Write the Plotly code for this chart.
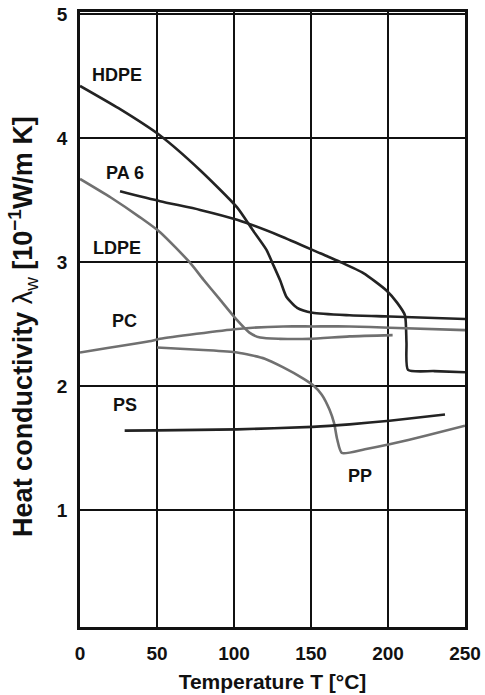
import plotly.graph_objects as go

DARK = "#232323"
GRAY = "#707070"

hdpe_t = [0, 25, 52, 78, 102, 112, 121, 125, 130, 134, 141, 151, 175, 201, 250]
hdpe_l = [4.42, 4.24, 4.02, 3.74, 3.44, 3.26, 3.10, 2.99, 2.85, 2.72, 2.63, 2.59, 2.57, 2.56, 2.54]

pa6_t = [26, 52, 78, 102, 130, 156, 169, 184, 199, 206, 211, 212, 213, 230, 250]
pa6_l = [3.57, 3.49, 3.42, 3.34, 3.21, 3.07, 3.00, 2.91, 2.77, 2.67, 2.57, 2.35, 2.13, 2.12, 2.11]

ldpe_t = [0, 20, 39, 52, 71, 80, 90, 102, 110, 117, 130, 149, 175, 203]
ldpe_l = [3.67, 3.52, 3.36, 3.24, 3.00, 2.86, 2.71, 2.53, 2.43, 2.39, 2.38, 2.38, 2.40, 2.41]

pc_t = [0, 45, 52, 102, 132, 151, 175, 201, 250]
pc_l = [2.27, 2.36, 2.38, 2.46, 2.48, 2.48, 2.48, 2.47, 2.45]

pp_t = [50, 80, 102, 120, 132, 145, 151, 157, 162, 165, 167, 170, 185, 201, 225, 250]
pp_l = [2.31, 2.29, 2.27, 2.22, 2.15, 2.06, 2.01, 1.93, 1.81, 1.70, 1.57, 1.46, 1.49, 1.53, 1.60, 1.68]

ps_t = [29, 50, 102, 151, 175, 201, 237]
ps_l = [1.64, 1.642, 1.65, 1.67, 1.69, 1.72, 1.77]

label_names = ["HDPE", "PA 6", "LDPE", "PC", "PS", "PP"]
label_t = [24, 29, 24, 29, 29, 182]
label_l = [4.51, 3.72, 3.11, 2.52, 1.85, 1.27]

x_ticks = [0, 50, 100, 150, 200, 250]
y_ticks = [1, 2, 3, 4, 5]

FONT = "Liberation Sans, Arial, sans-serif"

fig = go.Figure()
series = [
    (hdpe_t, hdpe_l, DARK),
    (pa6_t, pa6_l, DARK),
    (ldpe_t, ldpe_l, GRAY),
    (pc_t, pc_l, GRAY),
    (pp_t, pp_l, GRAY),
    (ps_t, ps_l, DARK),
]
for t, l, c in series:
    fig.add_trace(go.Scatter(x=t, y=l, mode="lines",
                             line=dict(color=c, width=2.6, shape="spline", smoothing=0.6),
                             showlegend=False, hoverinfo="skip"))

for name, t, l in zip(label_names, label_t, label_l):
    fig.add_annotation(x=t, y=l, text="<b>%s</b>" % name, showarrow=False,
                       font=dict(family=FONT, size=18, color="#111"))

fig.add_annotation(xref="paper", yref="paper", x=-0.148, y=0.488, xanchor="center", yanchor="middle",
                   text="<b>Heat conductivity </b>λ<sub>w</sub><b> [10<sup>−1</sup>W/m K]</b>",
                   textangle=-90, showarrow=False,
                   font=dict(family=FONT, size=27, color="#111"))

fig.update_layout(
    width=485, height=695,
    margin=dict(l=80, r=20, t=12, b=68, autoexpand=False),
    paper_bgcolor="white", plot_bgcolor="white",
    font=dict(family=FONT, size=19, color="#111"),
)
fig.update_xaxes(range=[0, 250], tickvals=x_ticks, ticktext=["<b>%d</b>" % v for v in x_ticks],
                 automargin=False,
                 showgrid=True, gridcolor="#111", gridwidth=2,
                 showline=True, linecolor="#111", linewidth=2.5, mirror=True,
                 zeroline=False, ticks="", ticklabelstandoff=7,
                 tickfont=dict(family=FONT, size=19),
                 title=dict(text="<b>Temperature T [°C]</b>", standoff=12,
                            font=dict(family=FONT, size=21)))
fig.update_yaxes(range=[0.056, 5.016], tickvals=y_ticks, ticktext=["<b>%d</b>" % v for v in y_ticks],
                 automargin=False,
                 showgrid=True, gridcolor="#111", gridwidth=2,
                 showline=True, linecolor="#111", linewidth=2.5, mirror=True,
                 zeroline=False, ticks="", ticklabelstandoff=6,
                 tickfont=dict(family=FONT, size=19))

fig.write_html("out.html")
